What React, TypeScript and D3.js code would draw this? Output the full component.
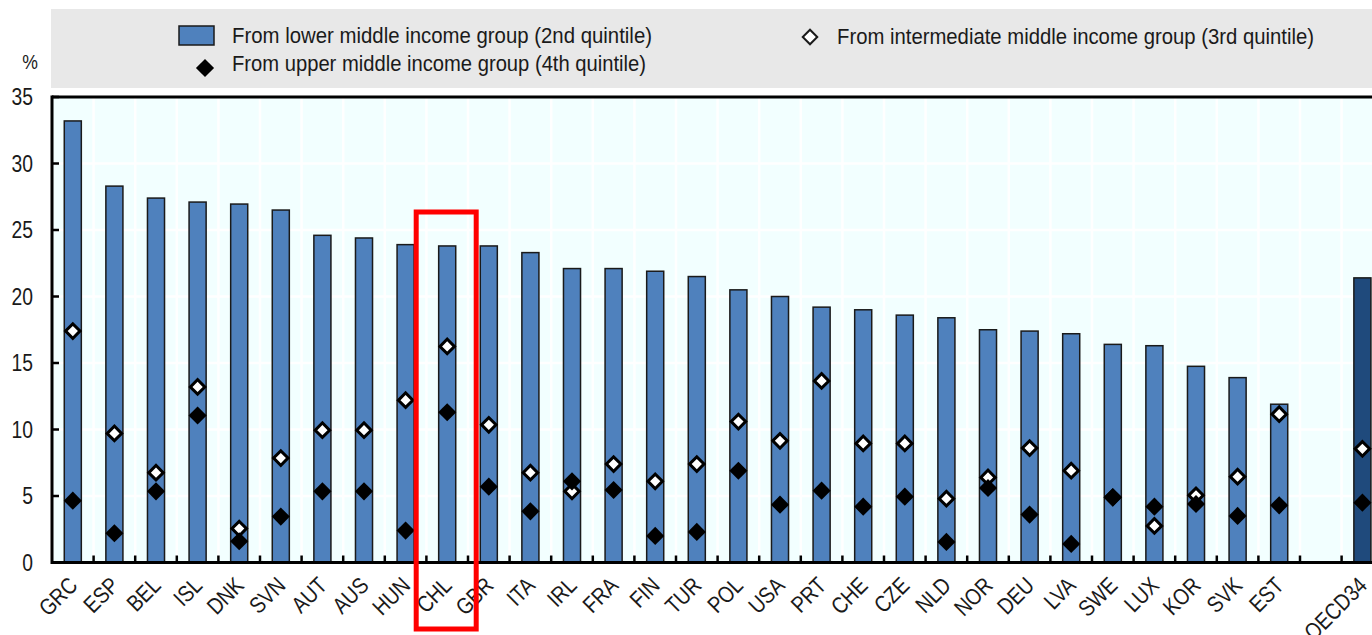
import React from 'react';
import * as d3 from 'd3';

const countries = ['GRC', 'ESP', 'BEL', 'ISL', 'DNK', 'SVN', 'AUT', 'AUS', 'HUN', 'CHL', 'GBR', 'ITA', 'IRL', 'FRA', 'FIN',
  'TUR', 'POL', 'USA', 'PRT', 'CHE', 'CZE', 'NLD', 'NOR', 'DEU', 'LVA', 'SWE', 'LUX', 'KOR', 'SVK', 'EST'];
const lowerMiddle = [33.2, 28.3, 27.4, 27.1, 26.95, 26.5, 24.6, 24.4, 23.9, 23.8, 23.8, 23.3, 22.1, 22.1, 21.9,
  21.5, 20.5, 20.0, 19.2, 19.0, 18.6, 18.4, 17.5, 17.4, 17.2, 16.4, 16.3, 14.75, 13.9, 11.9];
const intermediateMiddle = [17.4, 9.7, 6.75, 13.2, 2.55, 7.85, 9.95, 9.95, 12.2, 16.25, 10.35, 6.75, 5.35, 7.4, 6.1,
  7.4, 10.6, 9.15, 13.65, 8.95, 8.95, 4.8, 6.4, 8.6, 6.9, 4.9, 2.75, 5.05, 6.45, 11.15];
const upperMiddle = [4.65, 2.2, 5.35, 11.05, 1.6, 3.45, 5.35, 5.35, 2.4, 11.3, 5.7, 3.85, 6.1, 5.45, 2.0,
  2.3, 6.9, 4.35, 5.4, 4.2, 4.95, 1.55, 5.6, 3.6, 1.4, 4.9, 4.2, 4.4, 3.5, 4.3];
const oecdLabel = 'OECD34';
const oecdValues = { lower: 21.4, intermediate: 8.55, upper: 4.5 };
const yTicks = [0, 5, 10, 15, 20, 25, 30, 35];
const legendLabels = [
  'From lower middle income group (2nd quintile)',
  'From intermediate middle income group (3rd quintile)',
  'From upper middle income group (4th quintile)',
];
const highlighted = 'CHL';

const W = 1372;
const H = 635;
const margin = { left: 52, top: 97, bottom: 562.5 };
const FONT = "'Liberation Sans', Arial, sans-serif";
const TEXT = '#1a1a1a';
const NARROW = 0.84; // the original uses a condensed face

type Row = { code: string; lower: number; intermediate: number; upper: number; oecd?: boolean };

const rows: Row[] = countries.map((c, i) => ({
  code: c,
  lower: lowerMiddle[i],
  intermediate: intermediateMiddle[i],
  upper: upperMiddle[i],
}));
rows.push({ code: oecdLabel, ...oecdValues, oecd: true });

const App: React.FC = () => {
  const domain = [...countries, ' ', oecdLabel];
  const step = 41.6;
  const x = d3.scaleBand<string>()
    .domain(domain)
    .range([margin.left, margin.left + step * domain.length])
    .paddingInner(0.59)
    .paddingOuter(0.295);
  const y = d3.scaleLinear().domain([0, 35]).range([margin.bottom, margin.top]);

  const plotRight = margin.left + step * domain.length;
  const boundaries = d3.range(1, domain.length).map(k => margin.left + k * x.step());
  const center = (c: string) => x(c)! + x.bandwidth() / 2;

  const blackDiamond = d3.symbol(d3.symbolSquare, 165)()!;
  const whiteDiamond = d3.symbol(d3.symbolSquare, 105)()!;

  const hc = center(highlighted);

  return (
    <div style={{ position: 'absolute', left: 0, top: 0 }}>
      <svg width={W} height={H} style={{ display: 'block', fontFamily: FONT }}>
        <rect width={W} height={H} fill="#ffffff" />

        {/* legend */}
        <rect x={51} y={9} width={W} height={79} fill="#e8e8e8" />
        <rect x={179} y={26} width={35} height={19} fill="#4f81bd" stroke="#1a1a1a" strokeWidth={1.5} />
        <text x={232} y={35} dy="0.35em" fontSize={22} fill={TEXT} textLength={420} lengthAdjust="spacingAndGlyphs">{legendLabels[0]}</text>
        <path d={whiteDiamond} transform="translate(810,37) rotate(45)" fill="#fff" stroke="#1a1a1a" strokeWidth={2} />
        <text x={837} y={36} dy="0.35em" fontSize={22} fill={TEXT} textLength={477} lengthAdjust="spacingAndGlyphs">{legendLabels[1]}</text>
        <path d={blackDiamond} transform="translate(205,68) rotate(45)" fill="#000" />
        <text x={232} y={63.5} dy="0.35em" fontSize={22} fill={TEXT} textLength={414} lengthAdjust="spacingAndGlyphs">{legendLabels[2]}</text>

        <text transform={`translate(30,62) scale(${NARROW},1)`} dy="0.35em" textAnchor="middle" fontSize={21} fill={TEXT}>%</text>

        {/* plot background */}
        <rect x={margin.left} y={margin.top} width={plotRight - margin.left} height={margin.bottom - margin.top} fill="#f2ffff" />
        {yTicks.filter(t => t > 0 && t < 35).map(t => (
          <line key={`gy${t}`} x1={margin.left} x2={plotRight} y1={y(t)} y2={y(t)} stroke="#ffffff" strokeWidth={2.5} />
        ))}
        {boundaries.map((b, i) => (
          <line key={`gx${i}`} x1={b} x2={b} y1={margin.top} y2={margin.bottom} stroke="#ffffff" strokeWidth={2.5} />
        ))}

        {/* bars */}
        {rows.map(r => (
          <rect key={`b${r.code}`} x={x(r.code)} y={y(r.lower)} width={x.bandwidth()} height={y(0) - y(r.lower)}
            fill={r.oecd ? '#1f4a7c' : '#4f81bd'} stroke="#1a1a1a" strokeWidth={1.5} />
        ))}

        {/* markers: 3rd quintile under, 4th quintile on top */}
        {rows.map(r => (
          <path key={`w${r.code}`} d={whiteDiamond}
            transform={`translate(${center(r.code)},${y(r.intermediate)}) rotate(45)`}
            fill="#ffffff" stroke="#000" strokeWidth={3} />
        ))}
        {rows.map(r => (
          <path key={`k${r.code}`} d={blackDiamond}
            transform={`translate(${center(r.code)},${y(r.upper)}) rotate(45)`}
            fill="#000" />
        ))}

        {/* axes */}
        <line x1={margin.left} x2={plotRight} y1={margin.top} y2={margin.top} stroke="#000" strokeWidth={3} />
        <line x1={margin.left} x2={margin.left} y1={margin.top - 1.5} y2={margin.bottom + 1.5} stroke="#000" strokeWidth={3} />
        <line x1={margin.left} x2={plotRight} y1={margin.bottom} y2={margin.bottom} stroke="#000" strokeWidth={3} />
        {boundaries.map((b, i) => (
          <line key={`tx${i}`} x1={b} x2={b} y1={margin.bottom} y2={margin.bottom - 7} stroke="#000" strokeWidth={2.5} />
        ))}
        {yTicks.map(t => (
          <g key={`ty${t}`}>
            <line x1={margin.left} x2={margin.left + 7} y1={y(t)} y2={y(t)} stroke="#000" strokeWidth={2.5} />
            <text transform={`translate(33,${y(t)}) scale(${NARROW},1)`} dy="0.35em" textAnchor="end" fontSize={23} fill={TEXT}>{t}</text>
          </g>
        ))}
        {rows.map(r => (
          <text key={`l${r.code}`} transform={`translate(${center(r.code) + 6},587) rotate(-45) scale(${NARROW},1)`}
            textAnchor="end" fontSize={23} fill={TEXT}>{r.code}</text>
        ))}

        {/* highlight box */}
        <rect x={hc - 31} y={212} width={60} height={417} fill="none" stroke="#ff0000" strokeWidth={5} />
      </svg>
    </div>
  );
};

export default App;
